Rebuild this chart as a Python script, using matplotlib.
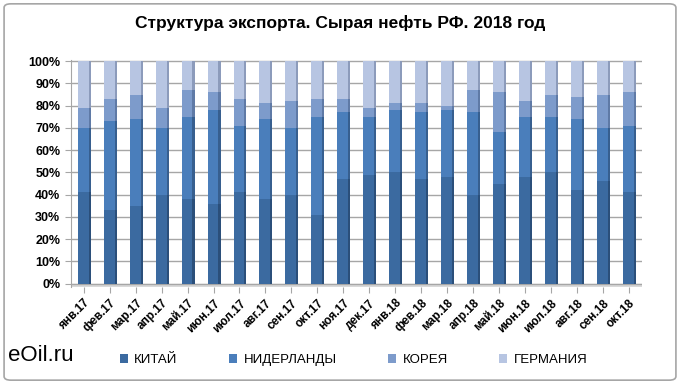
import matplotlib
matplotlib.use('Agg')
import matplotlib.pyplot as plt
from matplotlib.patches import FancyBboxPatch
from matplotlib.ticker import MultipleLocator, PercentFormatter
import numpy as np

plt.rcParams['font.family'] = ['Liberation Sans', 'DejaVu Sans']

months = ['янв.17', 'фев.17', 'мар.17', 'апр.17', 'май.17', 'июн.17', 'июл.17',
          'авг.17', 'сен.17', 'окт.17', 'ноя.17', 'дек.17', 'янв.18', 'фев.18',
          'мар.18', 'апр.18', 'май.18', 'июн.18', 'июл.18', 'авг.18', 'сен.18', 'окт.18']

# доли, %
china = [41, 33, 35, 40, 38, 36, 41, 38, 40, 31, 47, 49, 50, 47, 48, 40, 45, 48, 50, 42, 46, 41]
netherlands = [29, 40, 39, 30, 37, 42, 30, 36, 30, 44, 30, 26, 28, 30, 30, 37, 23, 27, 25, 32, 24, 30]
korea = [9, 10, 11, 9, 12, 8, 12, 7, 12, 8, 6, 4, 3, 4, 2, 10, 18, 7, 10, 10, 15, 15]
germany = [100 - a - b - c for a, b, c in zip(china, netherlands, korea)]

series = [('КИТАЙ', china, '#3b6aa0', '#2b4f7a'),
          ('НИДЕРЛАНДЫ', netherlands, '#4a7ebb', '#375f8f'),
          ('КОРЕЯ', korea, '#7d9bcb', '#5f7aa6'),
          ('ГЕРМАНИЯ', germany, '#b7c5e2', '#8c9bbb')]

fig = plt.figure(figsize=(6.8, 3.84), dpi=100)
ax = fig.add_axes([0.104, 0.2526, 0.840, 0.591])

x = np.arange(len(months))
w = 0.42
bottom = np.zeros(len(months))
handles = []
for name, vals, col, dark in series:
    vals = np.array(vals, dtype=float)
    h = ax.bar(x - 0.02, vals, w, bottom=bottom, color=col, edgecolor='none', zorder=3, label=name)
    ax.bar(x - 0.02 + w / 2 + 0.04, vals, 0.08, bottom=bottom, color=dark, edgecolor='none', zorder=3)
    handles.append(h)
    bottom += vals

# пол
ax.axhspan(-1.5, 0, color='#d9d9d9', zorder=1)

ax.set_xlim(-0.5, len(months) - 0.5)
ax.set_ylim(-1.5, 100.5)
ax.yaxis.set_major_locator(MultipleLocator(10))
ax.yaxis.set_major_formatter(PercentFormatter(decimals=0))
ax.grid(axis='y', color='#a6a6a6', linewidth=1, zorder=0)
ax.set_xticks(x)
ax.set_xticklabels(months, rotation=45, ha='right', rotation_mode='anchor', fontsize=8.5, fontweight='bold')
for lbl in ax.get_yticklabels():
    lbl.set_fontsize(9)
    lbl.set_fontweight('bold')
ax.tick_params(axis='both', color='#a6a6a6', length=4)
for s in ['top', 'right', 'bottom']:
    ax.spines[s].set_visible(False)
ax.spines['left'].set_color('#a6a6a6')

fig.text(0.5, 0.94, 'Структура экспорта. Сырая нефть РФ. 2018 год',
         ha='center', va='center', fontsize=12.5, fontweight='bold')
fig.text(0.012, 0.075, 'eOil.ru', ha='left', va='center', fontsize=16)

fig.legend(handles=handles, labels=[s[0] for s in series], loc='center',
           bbox_to_anchor=(0.52, 0.062), ncol=4, frameon=False, fontsize=9.5,
           handlelength=0.6, handleheight=0.6, columnspacing=3.9, handletextpad=0.5)

border = FancyBboxPatch((0.006, 0.01), 0.988, 0.98, boxstyle='round,pad=0,rounding_size=0.01',
                        transform=fig.transFigure, fill=False, edgecolor='#a6a6a6', linewidth=1.2)
fig.patches.append(border)

fig.savefig('out.png', dpi=100)
